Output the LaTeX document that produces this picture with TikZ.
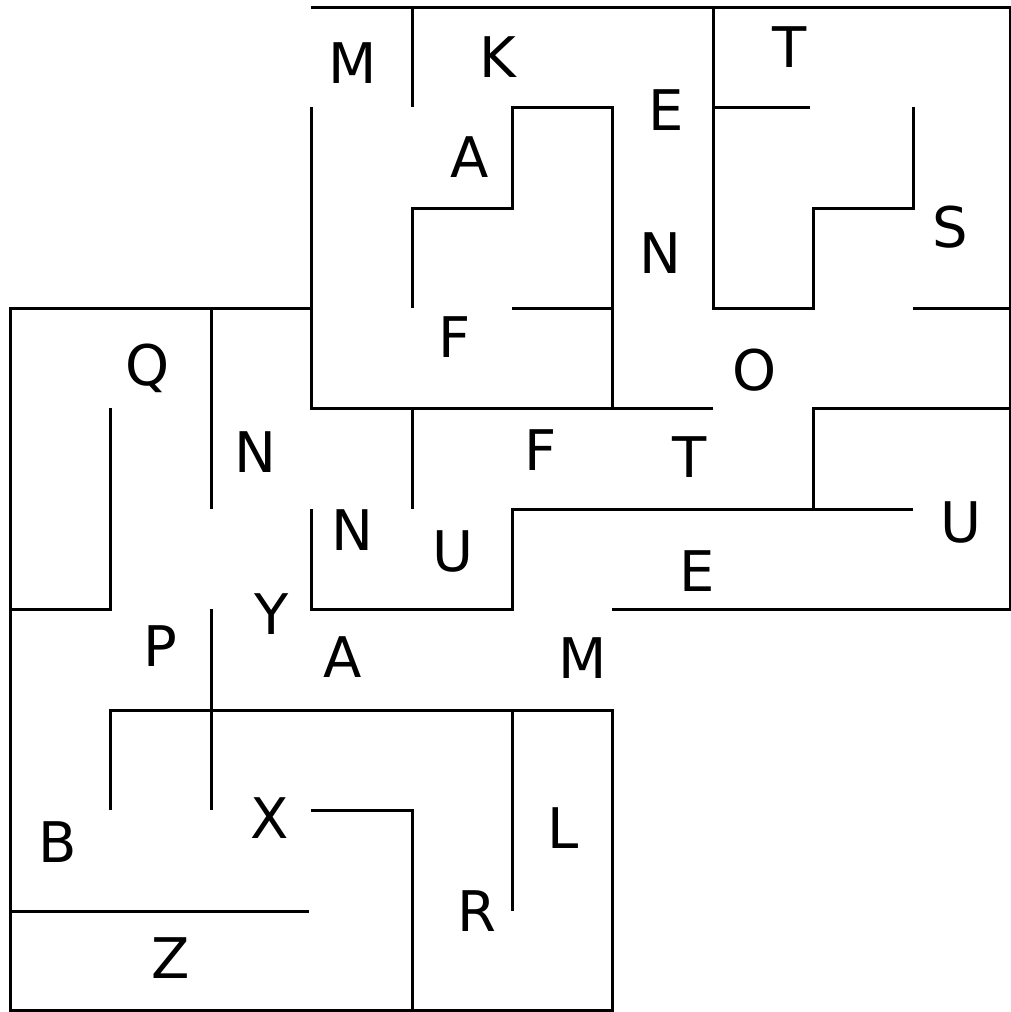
\documentclass[tikz,border=0pt]{standalone}
\usepackage{fontspec}
\setmainfont{DejaVu Sans}
\begin{document}
\begin{tikzpicture}[x=1pt,y=-1pt,
  wall/.style={draw=black,line width=3pt,line cap=butt},
  lab/.style={anchor=base,inner sep=0pt,font=\fontsize{56}{56}\selectfont}]
\useasboundingbox (0,0) rectangle (1011,1012);
% walls
\draw[wall] (311,7) -- (1010,7) -- (1010,609) -- (612,609);
\draw[wall] (412,7) -- (412,107);
\draw[wall] (311,107) -- (311,408) -- (713,408);
\draw[wall] (311,308) -- (10,308) -- (10,1010) -- (612,1010) -- (612,710) -- (110,710) -- (110,810);
\draw[wall] (713,7) -- (713,308) -- (813,308) -- (813,208) -- (913,208) -- (913,107);
\draw[wall] (713,107) -- (810,107);
\draw[wall] (412,308) -- (412,208) -- (512,208) -- (512,107) -- (612,107) -- (612,408);
\draw[wall] (512,308) -- (612,308);
\draw[wall] (913,308) -- (1010,308);
\draw[wall] (1010,408) -- (813,408) -- (813,509);
\draw[wall] (913,509) -- (512,509) -- (512,609) -- (311,609) -- (311,509);
\draw[wall] (412,408) -- (412,509);
\draw[wall] (211,308) -- (211,509);
\draw[wall] (110,408) -- (110,609) -- (10,609);
\draw[wall] (211,609) -- (211,810);
\draw[wall] (512,710) -- (512,911);
\draw[wall] (311,810) -- (412,810) -- (412,1010);
\draw[wall] (10,911) -- (309,911);
% labels
\node[lab] (m1) at (353,83) {M};
\node[lab] (k1) at (498,77) {K};
\node[lab] (t1) at (790,67) {T};
\node[lab] (e1) at (666,130) {E};
\node[lab] (a1) at (470,177) {A};
\node[lab] (s1) at (950,247) {S};
\node[lab] (n1) at (660,273) {N};
\node[lab] (f1) at (455,357) {F};
\node[lab] (o1) at (755,390) {O};
\node[lab] (q1) at (148,385) {Q};
\node[lab] (n2) at (255,472) {N};
\node[lab] (f2) at (541,470) {F};
\node[lab] (t2) at (690,477) {T};
\node[lab] (n3) at (352,550) {N};
\node[lab] (u1) at (453,571) {U};
\node[lab] (u2) at (961,542) {U};
\node[lab] (e2) at (697,591) {E};
\node[lab] (y1) at (272,634) {Y};
\node[lab] (p1) at (160,666) {P};
\node[lab] (a2) at (343,677) {A};
\node[lab] (m2) at (583,678) {M};
\node[lab] (b1) at (58,862) {B};
\node[lab] (x1) at (270,838) {X};
\node[lab] (l1) at (563,848) {L};
\node[lab] (r1) at (477,931) {R};
\node[lab] (z1) at (171,978) {Z};
\end{tikzpicture}
\end{document}
